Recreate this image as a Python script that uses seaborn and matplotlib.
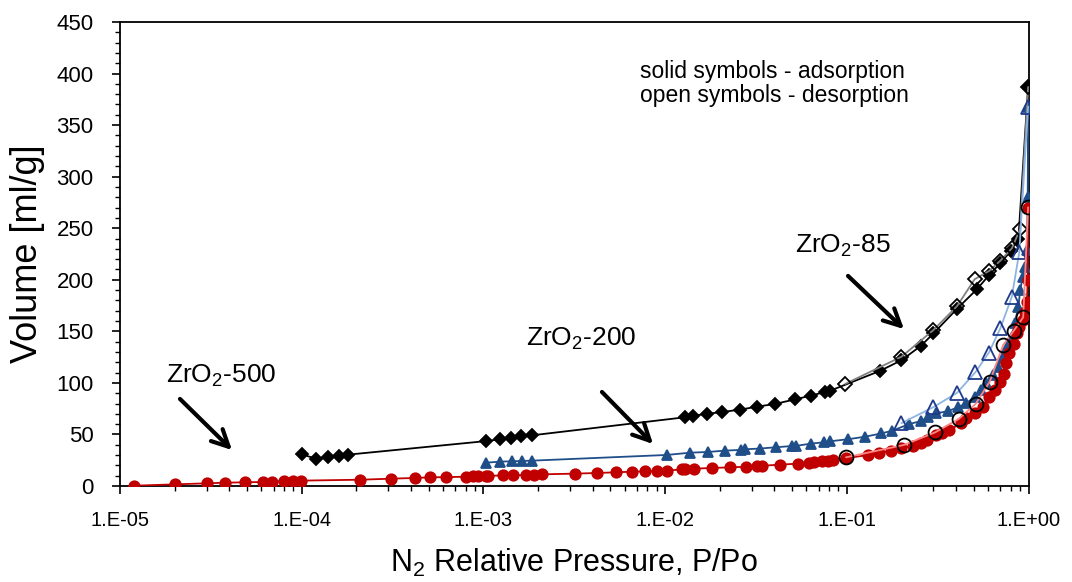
import matplotlib
matplotlib.use("Agg")
import matplotlib.pyplot as plt
import matplotlib.ticker as mticker
import seaborn as sns
import numpy as np

# ---------------- data ----------------
red_ads_p = [1.2e-5, 2.0e-5, 3.0e-5, 3.8e-5, 4.9e-5, 6.1e-5, 6.9e-5, 8.0e-5, 9.0e-5, 9.9e-5,
             2.1e-4, 3.1e-4, 4.2e-4, 5.1e-4, 6.2e-4, 8.0e-4, 8.8e-4, 9.3e-4, 1.04e-3, 1.06e-3,
             1.28e-3, 1.45e-3, 1.71e-3, 1.89e-3, 2.1e-3, 3.2e-3, 4.2e-3, 5.4e-3, 6.6e-3, 7.8e-3,
             9.0e-3, 1.02e-2, 1.24e-2, 1.29e-2, 1.45e-2, 1.81e-2, 2.29e-2, 2.8e-2, 3.2e-2, 3.4e-2,
             4.3e-2, 5.4e-2, 6.2e-2, 6.6e-2, 7.3e-2, 7.9e-2, 8.4e-2, 0.099, 0.13, 0.15,
             0.174, 0.2, 0.23, 0.256, 0.278, 0.31, 0.336, 0.367, 0.426, 0.453,
             0.51, 0.56, 0.61, 0.65, 0.70, 0.73, 0.75, 0.78, 0.83, 0.86,
             0.89, 0.93, 0.96, 0.98, 0.99, 0.995]
red_ads_v = [0.3, 1.6, 2.6, 3.2, 3.6, 3.9, 4.2, 4.8, 5.0, 5.2,
             6.1, 7.1, 7.8, 8.4, 8.6, 9.0, 9.3, 9.5, 9.7, 9.8,
             10.3, 10.4, 10.8, 11.0, 11.3, 12.0, 12.6, 13.3, 13.9, 14.2,
             14.5, 14.8, 16.2, 16.5, 16.8, 17.5, 18.1, 18.7, 19.4, 19.6,
             20.7, 21.7, 22.7, 23.3, 24.0, 24.6, 25.2, 26.9, 30.0, 31.7,
             34.2, 36.6, 39.0, 41.4, 44.6, 49.5, 51.0, 54.3, 60.8, 65.6,
             70.5, 77.0, 86.6, 93.0, 101.0, 109.0, 119.0, 128.7, 138.0, 148.0,
             154.5, 161.0, 169.0, 178.7, 199.8, 270.0]
red_des_p = [0.995, 0.935, 0.83, 0.726, 0.612, 0.511, 0.413, 0.307, 0.206, 0.099]
red_des_v = [270.3, 163.6, 150.6, 136.8, 101.2, 79.5, 65.0, 52.1, 39.8, 27.8]

blue_ads_p = [1.03e-3, 1.23e-3, 1.44e-3, 1.64e-3, 1.86e-3, 1.02e-2, 1.37e-2, 1.72e-2, 2.13e-2, 2.6e-2,
              2.74e-2, 3.31e-2, 4.1e-2, 5.0e-2, 5.22e-2, 6.34e-2, 7.52e-2, 8.13e-2, 0.102, 0.126,
              0.155, 0.178, 0.22, 0.256, 0.28, 0.31, 0.36, 0.41, 0.455, 0.505,
              0.55, 0.585, 0.64, 0.68, 0.725, 0.76, 0.81, 0.84, 0.88, 0.9,
              0.93, 0.96, 0.98, 0.99, 0.995]
blue_ads_v = [22.6, 23.6, 24.0, 24.3, 24.6, 30.1, 32.3, 33.0, 34.3, 35.0,
              35.6, 36.3, 37.6, 38.8, 38.8, 41.1, 42.4, 43.4, 45.4, 47.8,
              51.0, 53.6, 60.0, 63.0, 66.6, 70.5, 72.5, 76.5, 80.2, 86.6,
              93.0, 99.6, 107.7, 115.7, 125.4, 135.0, 144.8, 157.8, 174.0, 190.0,
              203.0, 212.7, 229.0, 280.0, 368.0]
blue_des_p = [0.995, 0.89, 0.81, 0.70, 0.605, 0.51, 0.405, 0.30, 0.2]
blue_des_v = [368.0, 227.0, 183.6, 153.0, 129.3, 110.3, 90.5, 76.5, 61.0]

black_ads_p = [1.0e-4, 1.2e-4, 1.4e-4, 1.6e-4, 1.8e-4, 1.04e-3, 1.23e-3, 1.42e-3, 1.62e-3, 1.86e-3,
               1.28e-2, 1.43e-2, 1.69e-2, 2.06e-2, 2.58e-2, 3.19e-2, 4.01e-2, 5.21e-2, 6.32e-2, 7.61e-2,
               8.13e-2, 0.153, 0.2, 0.256, 0.30, 0.405, 0.52, 0.61, 0.70, 0.80,
               0.88, 0.995]
black_ads_v = [30.7, 26.5, 28.4, 29.4, 30.4, 43.6, 45.3, 46.8, 48.2, 49.2,
               66.6, 68.2, 69.8, 71.8, 74.0, 76.9, 79.5, 84.1, 87.6, 91.2,
               92.5, 111.8, 122.0, 136.0, 148.0, 172.0, 190.8, 205.0, 216.0, 228.0,
               240.0, 387.0]
black_des_p = [0.995, 0.9, 0.81, 0.70, 0.61, 0.505, 0.405, 0.30, 0.2, 0.098]
black_des_v = [387.0, 249.3, 230.5, 218.5, 208.8, 200.5, 174.6, 151.3, 125.4, 99.0]

x_ticks = [1e-5, 1e-4, 1e-3, 1e-2, 1e-1, 1e0]
x_tick_labels = ["1.E-05", "1.E-04", "1.E-03", "1.E-02", "1.E-01", "1.E+00"]
y_ticks = list(range(0, 451, 50))

# ---------------- style ----------------
sns.set_theme(style="white")
plt.rcParams["font.family"] = ["Liberation Sans", "DejaVu Sans"]
plt.rcParams["mathtext.fontset"] = "custom"
plt.rcParams["mathtext.rm"] = "Liberation Sans"
plt.rcParams["mathtext.it"] = "Liberation Sans"
plt.rcParams["text.color"] = "black"
plt.rcParams["axes.labelcolor"] = "black"
plt.rcParams["xtick.color"] = "black"
plt.rcParams["ytick.color"] = "black"

RED = "#C00000"
RED_L = "#FF8585"
BLUE = "#1F4E89"
BLUE_L = "#8DB4E2"
BLUE_O = "#1F3A8A"
GRAY = "#808080"

fig = plt.figure(figsize=(10.72, 5.82), dpi=100)
ax = fig.add_axes([120 / 1072, 1 - 486 / 582, 908.5 / 1072, 464 / 582])

def series(px, py, color, marker, ms, mfc, mec, lw, z):
    sns.lineplot(x=px, y=py, ax=ax, color=color, lw=lw, marker=marker,
                 markersize=ms, markerfacecolor=mfc, markeredgecolor=mec,
                 markeredgewidth=1.3, estimator=None, sort=True, zorder=z,
                 legend=False)

# adsorption (solid)
series(black_ads_p, black_ads_v, "black", "D", 6, "black", "black", 1.3, 3)
series(blue_ads_p, blue_ads_v, BLUE, "^", 7.5, BLUE, BLUE, 1.3, 3)
series(red_ads_p, red_ads_v, RED, "o", 7.5, RED, RED, 1.3, 3)
# desorption (open)
series(black_des_p, black_des_v, GRAY, "D", 7.5, "none", "black", 1.3, 4)
series(blue_des_p, blue_des_v, BLUE_L, "^", 10, "none", BLUE_O, 1.3, 4)
series(red_des_p, red_des_v, RED_L, "o", 10, "none", "black", 1.3, 4)

ax.set_xscale("log")
ax.set_xlim(1e-5, 1)
ax.set_ylim(0, 450)
ax.set_xticks(x_ticks)
ax.set_xticklabels(x_tick_labels)
ax.xaxis.set_minor_locator(mticker.LogLocator(base=10, subs=np.arange(2, 10)))
ax.xaxis.set_minor_formatter(mticker.NullFormatter())
ax.set_yticks(y_ticks)
ax.yaxis.set_minor_locator(mticker.MultipleLocator(10))

for s in ax.spines.values():
    s.set_color("black")
    s.set_linewidth(1.3)

ax.tick_params(axis="both", which="major", direction="out", length=6, width=1.2,
               color="black", labelcolor="black", bottom=True, left=True)
ax.tick_params(axis="both", which="minor", direction="out", length=3.5, width=1.0,
               color="black", bottom=True, left=True)
ax.tick_params(axis="x", which="major", labelsize=14.5, pad=12)
ax.tick_params(axis="y", which="major", labelsize=16, pad=13)

ax.set_xlabel(r"N$_\mathregular{2}$ Relative Pressure, P/Po", fontsize=22, labelpad=12)
ax.set_ylabel("Volume [ml/g]", fontsize=26, labelpad=8)

ax.text(0.572, (486 - 83.5) / 464, "solid symbols - adsorption\nopen symbols - desorption",
        transform=ax.transAxes, fontsize=16.5, ha="left", va="center", linespacing=1.05)

# annotations
def ann(label, txy, tail, head):
    ax.text(txy[0], txy[1], label, transform=ax.transAxes, fontsize=19,
            ha="left", va="center")
    ax.annotate("", xy=head, xytext=tail, xycoords="axes fraction",
                textcoords="axes fraction",
                arrowprops=dict(arrowstyle="->,head_length=1.0,head_width=0.5",
                                color="black", lw=3))

def fx(px):
    return (px - 120) / 908.5

def fy(py):
    return (486 - py) / 464

ann(r"ZrO$_\mathregular{2}$-85", (fx(795), fy(246)), (fx(846), fy(274)), (fx(906), fy(331)))
ann(r"ZrO$_\mathregular{2}$-200", (fx(526), fy(339)), (fx(600), fy(390)), (fx(655), fy(446)))
ann(r"ZrO$_\mathregular{2}$-500", (fx(166), fy(376)), (fx(178), fy(397)), (fx(234), fy(452)))

fig.savefig("out.png", dpi=100)
